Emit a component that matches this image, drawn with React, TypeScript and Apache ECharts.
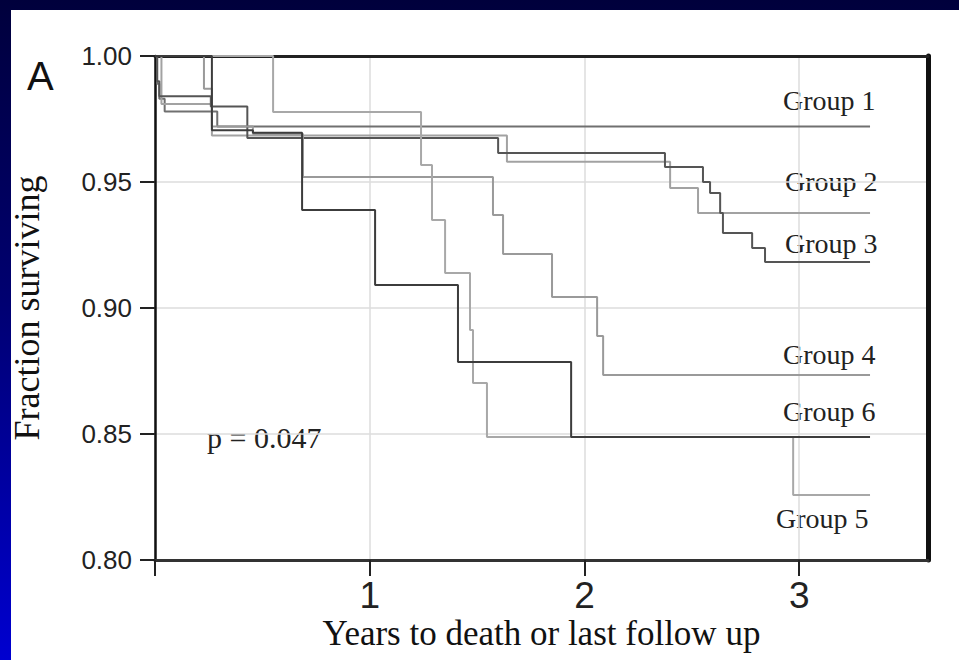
import React, { useEffect, useRef } from "react";
import * as echarts from "echarts";

// Kaplan-Meier steps: times (years) and survival fractions
const g1T = [0, 0.01, 0.02, 0.045, 0.29, 3.33];
const g1S = [1, 0.989, 0.983, 0.978, 0.972, 0.972];

const g2T = [0, 0.03, 0.265, 1.639, 2.399, 2.529, 3.33];
const g2S = [1, 0.981, 0.9685, 0.958, 0.9476, 0.9377, 0.9377];

const g3T = [0, 0.01, 0.02, 0.26, 0.43, 1.598, 2.375, 2.552, 2.585, 2.632, 2.645, 2.781, 2.841, 3.33];
const g3S = [1, 0.99, 0.984, 0.98, 0.9675, 0.9615, 0.956, 0.95, 0.9456, 0.9377, 0.9298, 0.9238, 0.9183, 0.9183];

const g4T = [0, 0.228, 0.265, 0.456, 0.689, 1.574, 1.621, 1.849, 2.059, 2.087, 3.33];
const g4S = [1, 0.987, 0.972, 0.969, 0.952, 0.9369, 0.9214, 0.9044, 0.8889, 0.8734, 0.8734];

const g5T = [0, 0.55, 1.239, 1.29, 1.351, 1.467, 1.481, 1.546, 2.972, 3.33];
const g5S = [1, 0.9778, 0.9567, 0.9349, 0.9139, 0.8913, 0.8702, 0.8488, 0.8258, 0.8258];

const g6T = [0, 0.265, 0.456, 0.685, 1.025, 1.411, 1.938, 3.33];
const g6S = [1, 0.9705, 0.9695, 0.9389, 0.9091, 0.8786, 0.8488, 0.8488];

const groupNames = ["Group 1", "Group 2", "Group 3", "Group 4", "Group 5", "Group 6"];
const groupColors = ["#707070", "#a2a2a2", "#555555", "#9a9a9a", "#a8a8a8", "#3c3c3c"];

const xTickValues = [0, 1, 2, 3];
const xTickLabels = ["", "1", "2", "3"];

const SERIF = "'Liberation Serif', 'Times New Roman', serif";
const SANS = "'Liberation Sans', Arial, sans-serif";

function zip(t: number[], s: number[]) {
  return t.map((v, i) => [v, s[i]]);
}

export default function App() {
  const ref = useRef<HTMLDivElement>(null);
  useEffect(() => {
    document.body.style.margin = "0";
    if (!ref.current) return;
    const chart = echarts.init(ref.current, undefined, { renderer: "svg" });
    const all = [zip(g1T, g1S), zip(g2T, g2S), zip(g3T, g3S), zip(g4T, g4S), zip(g5T, g5S), zip(g6T, g6S)];
    const series: any[] = all.map((d, i) => ({
      name: groupNames[i],
      type: "line",
      step: "end",
      data: d,
      symbol: "none",
      lineStyle: { color: groupColors[i], width: 2 },
      z: i === 5 ? 4 : 3,
    }));
    const labelPos: [string, number, number, number][] = [
      ["Group 1", 783, 100, 28],
      ["Group 2", 785, 181, 28],
      ["Group 3", 785, 243, 28],
      ["Group 4", 783, 354, 28],
      ["Group 6", 783, 411, 28],
      ["Group 5", 776, 518, 28],
      ["p = 0.047", 207, 437, 30],
    ];
    chart.setOption({
      animation: false,
      backgroundColor: "transparent",
      grid: {
        left: 155,
        right: 31,
        top: 56,
        bottom: 100,
        containLabel: false,
        outerBoundsMode: "none",
      },
      xAxis: [
        {
          type: "value",
          min: 0,
          max: 3.6,
          interval: 1,
          name: "Years to death or last follow up",
          nameLocation: "middle",
          nameGap: 56,
          nameMoveOverlap: false,
          nameTextStyle: { fontFamily: SERIF, fontSize: 35, color: "#111" },
          axisLine: { show: true, onZero: false, lineStyle: { color: "#333", width: 3 } },
          axisTick: { show: true, length: 16, customValues: xTickValues, lineStyle: { color: "#222", width: 2 } },
          axisLabel: {
            margin: 20,
            fontFamily: SANS,
            fontSize: 37,
            lineHeight: 30,
            color: "#222",
            customValues: xTickValues,
            formatter: (v: number) => xTickLabels[Math.round(v)] ?? "",
          },
          splitLine: { show: true, lineStyle: { color: "#dddddd", width: 1.5 } },
        },
        {
          type: "value",
          position: "top",
          min: 0,
          max: 3.6,
          axisLine: { show: true, onZero: false, lineStyle: { color: "#222", width: 3 } },
          axisTick: { show: false },
          axisLabel: { show: false },
          splitLine: { show: false },
        },
      ],
      yAxis: [
        {
          type: "value",
          min: 0.8,
          max: 1.0,
          interval: 0.05,
          name: "Fraction surviving",
          nameLocation: "middle",
          nameGap: 110,
          nameTextStyle: { fontFamily: SERIF, fontSize: 36, color: "#111" },
          axisLine: { show: true, onZero: false, lineStyle: { color: "#111", width: 2.5 } },
          axisTick: { show: true, length: 15, lineStyle: { color: "#222", width: 2 } },
          axisLabel: {
            margin: 23,
            fontFamily: SANS,
            fontSize: 26,
            color: "#222",
            formatter: (v: number) => v.toFixed(2),
          },
          splitLine: { show: true, lineStyle: { color: "#dddddd", width: 1.5 } },
        },
        {
          type: "value",
          position: "right",
          min: 0.8,
          max: 1.0,
          axisLine: { show: true, onZero: false, lineStyle: { color: "#111", width: 5 } },
          axisTick: { show: false },
          axisLabel: { show: false },
          splitLine: { show: false },
        },
      ],
      series,
      graphic: [
        {
          type: "text",
          left: 27,
          top: 56,
          style: { text: "A", font: `40px ${SANS}`, fill: "#111" },
        },
        ...labelPos.map(([t, x, y, fs]) => ({
          type: "text",
          x,
          y,
          style: {
            text: t,
            font: `${fs}px ${SERIF}`,
            fill: "#222",
            verticalAlign: "middle",
            align: "left",
          },
        })),
      ],
    });
    return () => chart.dispose();
  }, []);

  return (
    <div
      style={{
        position: "relative",
        width: 959,
        height: 660,
        background: "linear-gradient(to bottom, #00003c 0%, #000070 45%, #0000d0 100%)",
        overflow: "hidden",
      }}
    >
      <div style={{ position: "absolute", left: 11, top: 10, right: 0, bottom: 0, background: "#ffffff" }} />
      <div ref={ref} style={{ position: "absolute", left: 0, top: 0, width: 959, height: 660 }} />
    </div>
  );
}
